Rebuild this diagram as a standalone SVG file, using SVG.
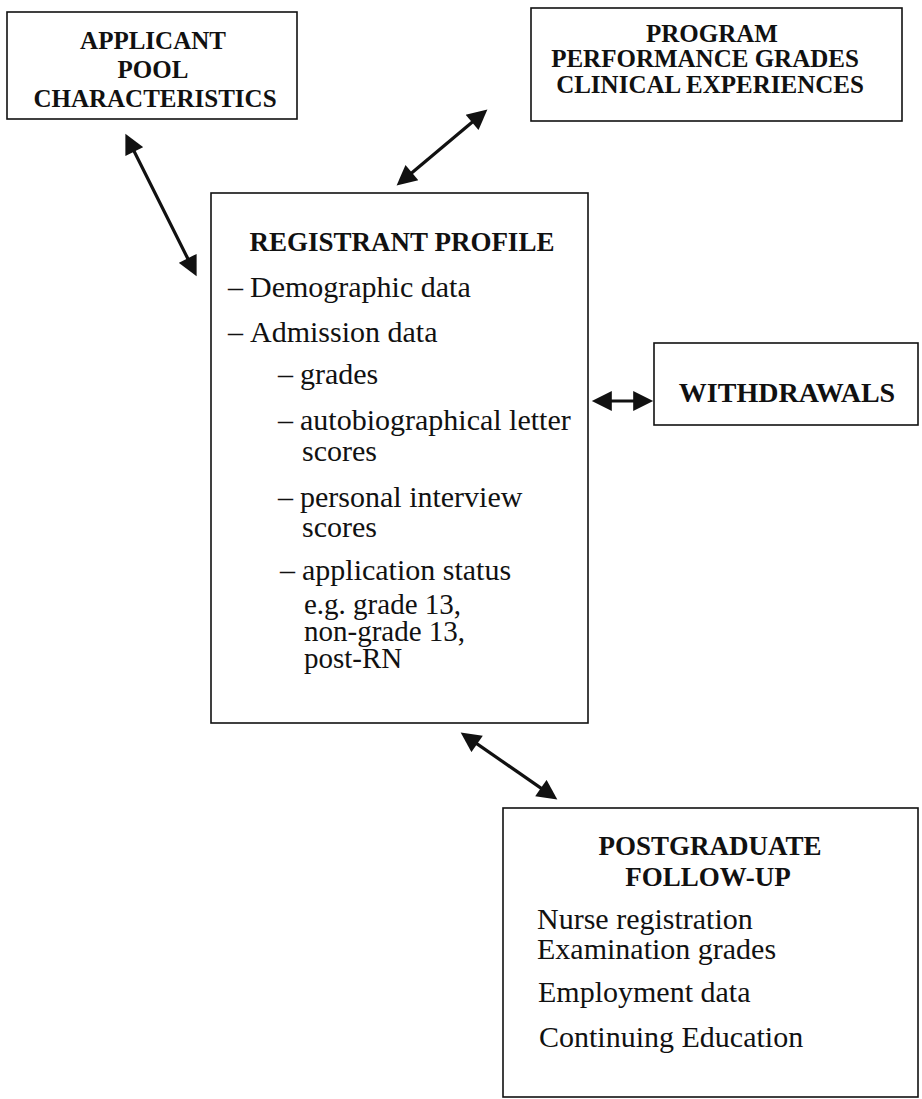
<svg xmlns="http://www.w3.org/2000/svg" width="922" height="1099" viewBox="0 0 922 1099">
<style>
.box{fill:#fff;stroke:#111;stroke-width:1.6}
.h{font-family:"Liberation Serif","Times New Roman",serif;font-weight:bold;fill:#111;text-anchor:middle}
.b{font-family:"Liberation Serif","Times New Roman",serif;font-size:30px;fill:#111}
.s{font-size:29px}
.conn{fill:none;stroke:#111;stroke-width:3.2}
</style>
<defs>
<marker id="ah" viewBox="0 0 10 10" refX="6.4" refY="5" markerWidth="22" markerHeight="20" markerUnits="userSpaceOnUse" orient="auto-start-reverse"><path d="M0,0 L10,5 L0,10 z" fill="#111"/></marker>
</defs>
<rect width="922" height="1099" fill="#fff"/>
<g id="applicant">
<rect class="box" x="7" y="12" width="290" height="107"/>
<text class="h" font-size="25" x="153" y="49">APPLICANT</text>
<text class="h" font-size="25" x="153" y="78">POOL</text>
<text class="h" font-size="25" x="155" y="107">CHARACTERISTICS</text>
</g>
<g id="program">
<rect class="box" x="531" y="8" width="371" height="113"/>
<text class="h" font-size="25" x="712" y="42">PROGRAM</text>
<text class="h" font-size="25" x="705" y="67">PERFORMANCE GRADES</text>
<text class="h" font-size="25" x="710" y="93">CLINICAL EXPERIENCES</text>
</g>
<g id="registrant">
<rect class="box" x="211" y="193" width="377" height="530"/>
<text class="h" font-size="27" x="402" y="251">REGISTRANT PROFILE</text>
<text class="b" x="228" y="297">–</text>
<text class="b" x="250" y="297">Demographic data</text>
<text class="b" x="228" y="342">–</text>
<text class="b" x="250" y="342">Admission data</text>
<text class="b" x="278" y="384">–</text>
<text class="b" x="300" y="384">grades</text>
<text class="b" x="278" y="430">–</text>
<text class="b" x="300" y="430">autobiographical letter</text>
<text class="b" x="302" y="461">scores</text>
<text class="b" x="278" y="507">–</text>
<text class="b" x="300" y="507">personal interview</text>
<text class="b" x="302" y="537">scores</text>
<text class="b" x="280" y="580">–</text>
<text class="b" x="302" y="580">application status</text>
<text class="b s"><tspan x="304" y="614">e.g. grade 13,</tspan><tspan x="304" y="641">non-grade 13,</tspan><tspan x="304" y="668">post-RN</tspan></text>
</g>
<g id="withdrawals">
<rect class="box" x="654" y="343" width="264" height="82"/>
<text class="h" font-size="28" x="787" y="402">WITHDRAWALS</text>
</g>
<g id="postgraduate">
<rect class="box" x="503" y="808" width="415" height="289"/>
<text class="h" font-size="27" x="710" y="855">POSTGRADUATE</text>
<text class="h" font-size="27" x="708" y="886">FOLLOW-UP</text>
<text class="b" x="537" y="929">Nurse registration</text>
<text class="b" x="537" y="959">Examination grades</text>
<text class="b" x="538" y="1002">Employment data</text>
<text class="b" x="539" y="1047">Continuing Education</text>
</g>
<g id="connectors">
<path class="conn" d="M128.6,140.2 L193.4,269.8" marker-start="url(#ah)" marker-end="url(#ah)"/>
<path class="conn" d="M481.9,114.1 L402.1,180.9" marker-start="url(#ah)" marker-end="url(#ah)"/>
<path class="conn" d="M466.6,736.6 L551.4,795.4" marker-start="url(#ah)" marker-end="url(#ah)"/>
<path class="conn" d="M599,401 L646,401" marker-start="url(#ah)" marker-end="url(#ah)"/>
</g>
</svg>
